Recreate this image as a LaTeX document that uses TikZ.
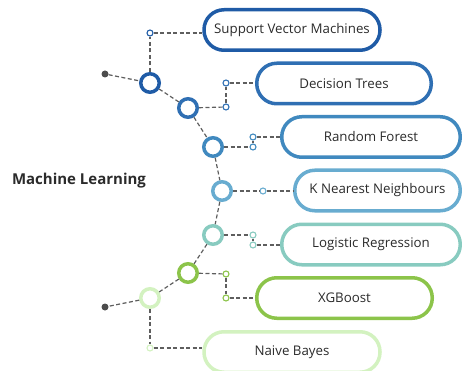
\documentclass[tikz,border=0pt]{standalone}
\usepackage{fontspec}
\setmainfont{Open Sans}
\definecolor{cA}{HTML}{1F5BA6}
\definecolor{cB}{HTML}{2F6FB3}
\definecolor{cC}{HTML}{4089BF}
\definecolor{cD}{HTML}{68ACD0}
\definecolor{cE}{HTML}{88CBC0}
\definecolor{cF}{HTML}{8CC44A}
\definecolor{cG}{HTML}{D3F2C0}
\definecolor{txt}{HTML}{2B2B2B}
\definecolor{lnk}{HTML}{5E5E5E}
\begin{document}
\begin{tikzpicture}[x=1pt,y=-1pt,
 big/.style={circle,draw=#1,line width=3.5pt,fill=white,minimum size=18.5pt,inner sep=0pt},
 sm/.style={circle,draw=#1,line width=1.1pt,fill=white,minimum size=6pt,inner sep=0pt},
 pill/.style={draw=#1,line width=3.5pt,rounded corners=20pt,minimum height=40.5pt,fill=white,inner sep=0pt,text=txt,font=\fontsize{13.3}{15}\selectfont},
 dl/.style={draw=lnk,dash pattern=on 4pt off 2.5pt,line width=1.2pt},
 dot/.style={circle,fill=black!70,minimum size=7pt,inner sep=0pt}]
\useasboundingbox (0,0) rectangle (462,371);
% pills
\node[pill=cA,minimum width=176pt] (p1) at (292,30) {Support Vector Machines};
\node[pill=cB,minimum width=174.5pt] (p2) at (344,83.5) {Decision Trees};
\node[pill=cC,minimum width=178.5pt] (p3) at (371,137) {Random Forest};
\node[pill=cD,minimum width=165.5pt] (p4) at (377.5,190.5) {K Nearest Neighbours};
\node[pill=cE,minimum width=178.5pt] (p5) at (371,244.5) {Logistic Regression};
\node[pill=cF,minimum width=175.5pt] (p6) at (344.5,298) {XGBoost};
\node[pill=cG,minimum width=176pt] (p7) at (292,352) {Naive Bayes};
% title
\node[font=\bfseries\fontsize{15}{17}\selectfont,text=txt] (title) at (79,181) {Machine Learning};
% chain
\node[dot] (d0) at (105,74) {};
\node[dot] (d8) at (105,307) {};
\node[big=cA] (m1) at (150,83) {};
\node[big=cB] (m2) at (188,108) {};
\node[big=cC] (m3) at (213,147) {};
\node[big=cD] (m4) at (222,191) {};
\node[big=cE] (m5) at (213,235) {};
\node[big=cF] (m6) at (188,273) {};
\node[big=cG] (m7) at (150,298) {};
% small junctions
\node[sm=cA] (s1) at (150,33) {};
\node[sm=cB] (s2a) at (226,83) {};
\node[sm=cB] (s2b) at (226,107) {};
\node[sm=cC] (s3a) at (253,137) {};
\node[sm=cC] (s3b) at (253,147) {};
\node[sm=cD] (s4) at (263,191) {};
\node[sm=cE] (s5a) at (253,235) {};
\node[sm=cE] (s5b) at (253,245) {};
\node[sm=cF] (s6a) at (226,274) {};
\node[sm=cF] (s6b) at (226,298) {};
\node[sm=cG] (s7) at (150,348) {};
% chain links
\draw[dl] (d0) -- (m1);
\draw[dl] (m1) -- (m2);
\draw[dl] (m2) -- (m3);
\draw[dl] (m3) -- (m4);
\draw[dl] (m4) -- (m5);
\draw[dl] (m5) -- (m6);
\draw[dl] (m6) -- (m7);
\draw[dl] (m7) -- (d8);
% branches
\draw[dl] (m1) -- (s1);
\draw[dl] (s1) -- (s1 -| p1.west);
\draw[dl] (m2) -- (s2b);
\draw[dl] (s2b) -- (s2a);
\draw[dl] (s2a) -- (s2a -| p2.west);
\draw[dl] (m3) -- (s3b);
\draw[dl] (s3b) -- (s3a);
\draw[dl] (s3a) -- (s3a -| p3.west);
\draw[dl] (m4) -- (s4);
\draw[dl] (s4) -- (s4 -| p4.west);
\draw[dl] (m5) -- (s5a);
\draw[dl] (s5a) -- (s5b);
\draw[dl] (s5b) -- (s5b -| p5.west);
\draw[dl] (m6) -- (s6a);
\draw[dl] (s6a) -- (s6b);
\draw[dl] (s6b) -- (s6b -| p6.west);
\draw[dl] (m7) -- (s7);
\draw[dl] (s7) -- (s7 -| p7.west);
\end{tikzpicture}
\end{document}
